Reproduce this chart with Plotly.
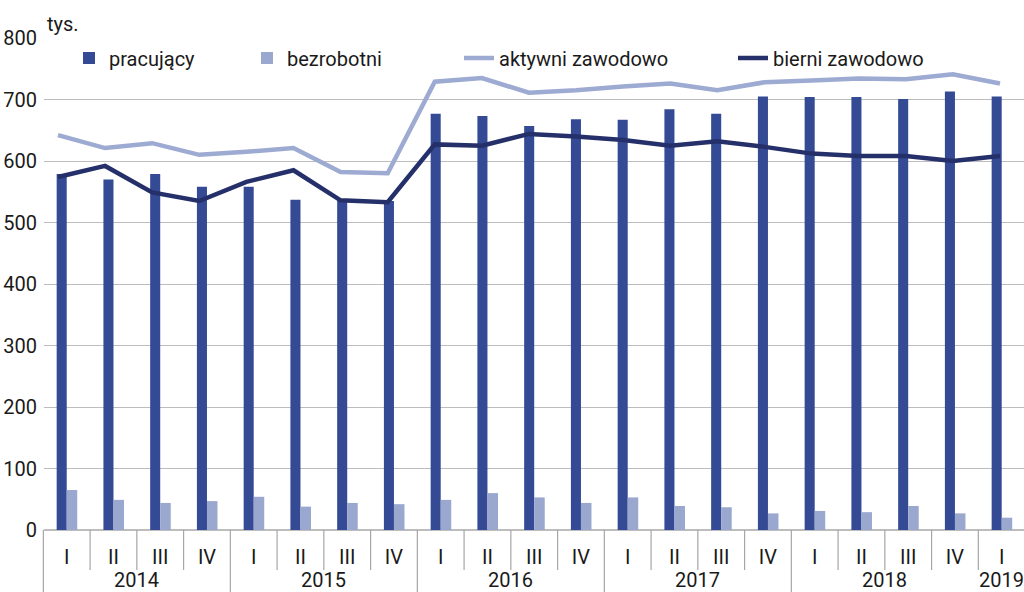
import plotly.graph_objects as go

quarters = ["I", "II", "III", "IV"] * 5 + ["I"]
years = ["2014"] * 4 + ["2015"] * 4 + ["2016"] * 4 + ["2017"] * 4 + ["2018"] * 4 + ["2019"]

pracujacy = [579, 570, 579, 558, 558, 537, 538, 535, 677, 673, 657, 668, 667, 684, 677, 705, 704, 704, 701, 713, 705]
bezrobotni = [65, 49, 44, 47, 54, 38, 44, 42, 49, 60, 53, 44, 53, 39, 37, 27, 31, 29, 39, 27, 20]
aktywni = [642, 621, 629, 610, 615, 621, 582, 580, 729, 735, 711, 715, 721, 726, 715, 728, 731, 734, 733, 741, 726]
bierni = [574, 592, 549, 535, 566, 585, 536, 533, 627, 625, 644, 640, 634, 625, 632, 623, 612, 608, 608, 600, 608]

y_ticks = [0, 100, 200, 300, 400, 500, 600, 700, 800]

FONT = "Roboto, Liberation Sans, sans-serif"
FS = 20
C_PRAC = "#344A94"
C_BEZR = "#9AA7CE"
C_AKTY = "#9DAAD2"
C_BIER = "#25306B"
GRID = "#BDBDBD"
TXT = "#1a1a1a"

idx = list(range(len(quarters)))
X_RANGE = [-0.486, 20.477]
X2_RANGE = [-0.297, 20.51]

fig = go.Figure()
fig.add_trace(go.Bar(x=idx, y=pracujacy, name="pracujący", marker_color=C_PRAC,
                     marker_line_width=0, offset=-0.215, width=0.215, legend="legend"))
fig.add_trace(go.Bar(x=idx, y=bezrobotni, name="bezrobotni", marker_color=C_BEZR,
                     marker_line_width=0, offset=0.0, width=0.225, legend="legend2"))
fig.add_trace(go.Scatter(x=idx, y=aktywni, name="aktywni zawodowo", mode="lines",
                         line=dict(color=C_AKTY, width=4.5), xaxis="x2", legend="legend3"))
fig.add_trace(go.Scatter(x=idx, y=bierni, name="bierni zawodowo", mode="lines",
                         line=dict(color=C_BIER, width=4.5), xaxis="x2", legend="legend4"))

W, H = 1024, 592
ML, MR, MT, MB = 44, 0, 38, 62
plot_w = W - ML - MR
plot_h = H - MT - MB


def px_to_paper_y(py):
    return (H - MB - py) / plot_h


def px_to_paper_x(px):
    return (px - ML) / plot_w


def idx_to_paper_x(v):
    return (v - X_RANGE[0]) / (X_RANGE[1] - X_RANGE[0])


shapes = []
annotations = []
# dividers between categories
for b in range(-1, len(idx) - 1):
    pos = b + 0.5
    if b == -1:
        full = True
    else:
        full = years[b] != years[b + 1] and b + 1 != len(idx) - 1
    y_end = px_to_paper_y(H) if full else px_to_paper_y(570)
    shapes.append(dict(type="line", xref="paper", yref="paper",
                       x0=idx_to_paper_x(pos), x1=idx_to_paper_x(pos),
                       y0=0, y1=y_end, line=dict(color="#A6A6A6", width=1.2)))

# year labels
seen = []
for y in years:
    if y not in seen:
        seen.append(y)
for y in seen:
    members = [i for i in idx if years[i] == y]
    center = sum(members) / len(members)
    annotations.append(dict(text=y, xref="x", yref="paper", x=center, y=px_to_paper_y(580),
                            xanchor="center", yanchor="middle", showarrow=False,
                            font=dict(family=FONT, size=FS, color=TXT)))

annotations.append(dict(text="tys.", xref="paper", yref="paper", x=0.001, y=px_to_paper_y(24),
                        xanchor="left", yanchor="middle", showarrow=False,
                        font=dict(family=FONT, size=FS, color=TXT)))


def leg(xpx):
    return dict(xref="paper", yref="paper", x=px_to_paper_x(xpx), y=px_to_paper_y(58),
                xanchor="left", yanchor="middle", orientation="h",
                bgcolor="rgba(0,0,0,0)", borderwidth=0,
                font=dict(family=FONT, size=FS, color=TXT))


fig.update_layout(
    width=W, height=H,
    margin=dict(l=ML, r=MR, t=MT, b=MB, pad=0, autoexpand=False),
    paper_bgcolor="white", plot_bgcolor="white",
    barmode="overlay",
    font=dict(family=FONT, size=FS, color=TXT),
    showlegend=True,
    legend=leg(69),
    legend2=leg(247),
    legend3=leg(459),
    legend4=leg(733),
    xaxis=dict(range=X_RANGE, tickmode="array", tickvals=idx, ticktext=quarters,
               showgrid=False, zeroline=False, showline=False, ticks="",
               ticklabelstandoff=13, tickfont=dict(family=FONT, size=FS, color=TXT),
               fixedrange=True),
    xaxis2=dict(range=X2_RANGE, overlaying="x", anchor="y", visible=False, fixedrange=True),
    yaxis=dict(range=[0, 800], tickmode="array", tickvals=y_ticks,
               showgrid=True, gridcolor=GRID, gridwidth=1.3,
               zeroline=True, zerolinecolor=GRID, zerolinewidth=1.5,
               showline=False, ticks="", ticklabelstandoff=6,
               tickfont=dict(family=FONT, size=FS, color=TXT), fixedrange=True),
    shapes=shapes,
    annotations=annotations,
)

fig.write_html("out.html", config={"displayModeBar": False},
               post_script="document.body.style.margin='0px';")
